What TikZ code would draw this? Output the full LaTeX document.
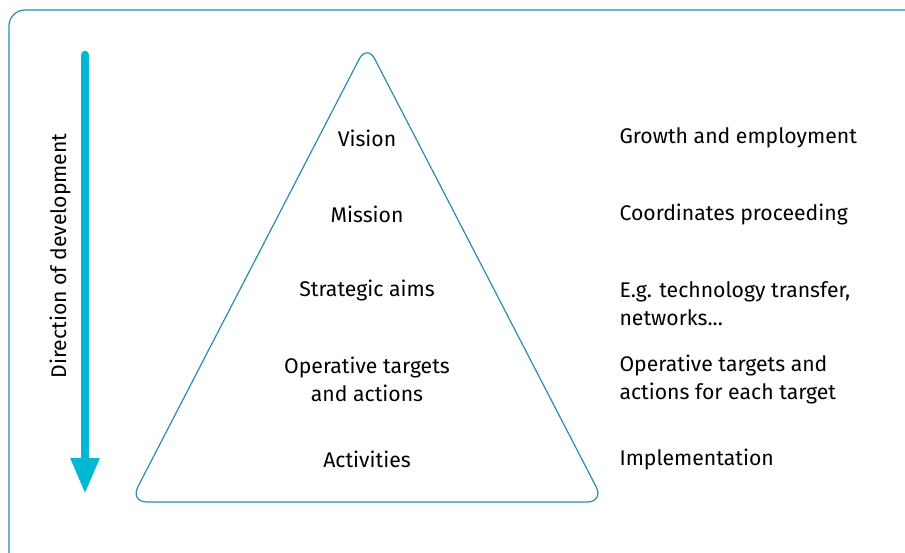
\documentclass[tikz,border=0pt]{standalone}
\usepackage{fontspec}
\setmainfont{Fira Sans}
\usetikzlibrary{arrows.meta}
\definecolor{framecol}{HTML}{2A8CAE}
\definecolor{arrowcol}{HTML}{00B8D4}
\begin{document}
\begin{tikzpicture}[x=1pt, y=-1pt,
    level/.style={font=\fontsize{21.2}{28}\selectfont, align=center},
    note/.style={font=\fontsize{21.2}{28}\selectfont, align=left, anchor=west}]
    % Cadre (coupe a droite et en bas)
    \useasboundingbox (0,0) rectangle (905,553);
    \begin{scope}
    \clip (0,0) rectangle (905,553);
    \draw[framecol, line width=1.2pt, rounded corners=16pt] (9,10) rectangle (930,580);
    \end{scope}

    % Fleche : direction
    \coordinate (dtop) at (85,55);
    \coordinate (dbot) at (85,494);
    \draw[arrowcol, line width=8.5pt, line cap=round, -{Triangle[width=27pt, length=36pt]}] (dtop) -- (dbot);
    \node[font=\fontsize{21.2}{28}\selectfont, rotate=90] (dir) at (60,256) {Direction of development};

    % Pyramide
    \draw[framecol, line width=1.2pt, rounded corners=17pt] (367,44) -- (604,502) -- (130,502) -- cycle;

    % Niveaux
    \node[level] (vision) at (367,138) {Vision};
    \node[level] (mission) at (367,214) {Mission};
    \node[level] (aims) at (367,290) {Strategic aims};
    \node[level] (targets) at (367,379) {Operative targets\\and actions};
    \node[level] (activ) at (367,459) {Activities};

    % Exemples
    \node[note] (growth) at (616,138) {Growth and employment};
    \node[note] (coord) at (616,214) {Coordinates proceeding};
    \node[note] (techno) at (616,304) {E.g. technology transfer,\\networks...};
    \node[note] (each) at (616,379) {Operative targets and\\actions for each target};
    \node[note] (impl) at (616,459) {Implementation};
\end{tikzpicture}
\end{document}
